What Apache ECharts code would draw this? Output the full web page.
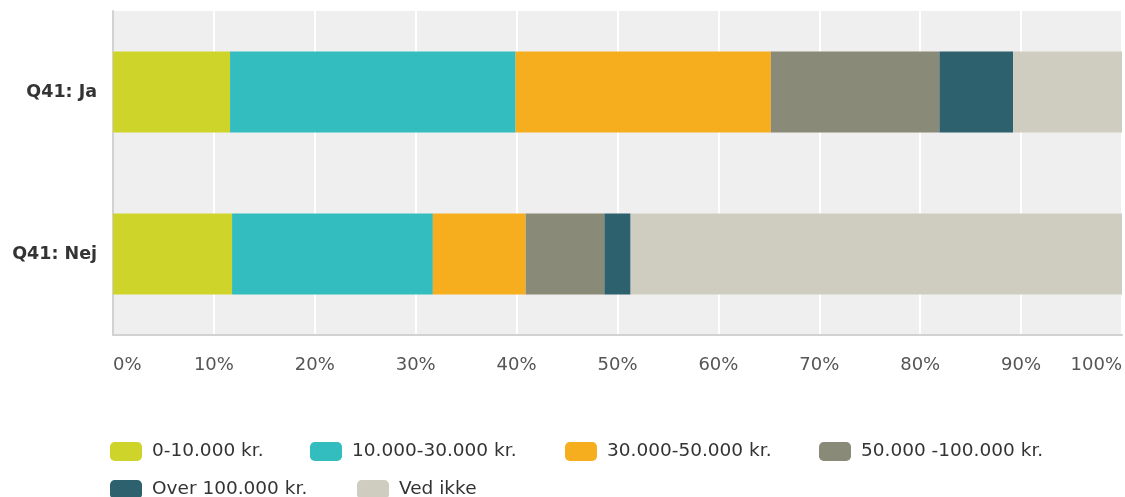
<!DOCTYPE html>
<html>
<head>
<meta charset="utf-8">
<script src="https://cdn.jsdelivr.net/npm/echarts@6/dist/echarts.min.js"></script>
<style>html,body{margin:0;padding:0;background:#fff;}#c{width:1125px;height:497px;}</style>
</head>
<body>
<div id="c"></div>
<script>
const categories = ['Q41: Ja', 'Q41: Nej'];
const seriesNames = ['0-10.000 kr.', '10.000-30.000 kr.', '30.000-50.000 kr.', '50.000 -100.000 kr.', 'Over 100.000 kr.', 'Ved ikke'];
const v0_10k = [11.6, 11.8];
const v10_30k = [28.3, 19.9];
const v30_50k = [25.3, 9.2];
const v50_100k = [16.7, 7.8];
const vOver100k = [7.3, 2.6];
const vVedIkke = [10.8, 48.7];
const tickValues = [0, 10, 20, 30, 40, 50, 60, 70, 80, 90, 100];

const seriesValues = [v0_10k, v10_30k, v30_50k, v50_100k, vOver100k, vVedIkke];
const colors = ['#cfd42a', '#33bdbf', '#f6ae1f', '#8a8a78', '#2e616e', '#cfcdbf'];

const legendPos = [[110, 442], [310, 442], [565, 442], [819, 442], [110, 480], [357, 480]];

const chart = echarts.init(document.getElementById('c'));
chart.setOption({
  animation: false,
  grid: {left: 113, right: 3, top: 11, bottom: 162, show: true, backgroundColor: '#efefef', borderWidth: 0},
  xAxis: {
    type: 'value', min: tickValues[0], max: tickValues[tickValues.length - 1], interval: tickValues[1] - tickValues[0],
    axisLine: {show: true, lineStyle: {color: '#d2d2d2', width: 2}},
    axisTick: {show: false},
    splitLine: {show: true, lineStyle: {color: '#ffffff', width: 2}},
    axisLabel: {
      formatter: v => v + '%', color: '#555', fontFamily: 'DejaVu Sans', fontSize: 18, margin: 21,
      alignMinLabel: 'left', alignMaxLabel: 'right'
    }
  },
  yAxis: {
    type: 'category', data: categories, inverse: true,
    axisLine: {show: true, lineStyle: {color: '#d2d2d2', width: 2}},
    axisTick: {show: false},
    axisLabel: {color: '#333', fontFamily: 'DejaVu Sans', fontWeight: 'bold', fontSize: 17.5, margin: 16}
  },
  legend: seriesNames.map((n, i) => ({
    data: [n], left: legendPos[i][0], top: legendPos[i][1], padding: 0,
    itemWidth: 32, itemHeight: 19, icon: 'roundRect',
    textStyle: {color: '#333', fontFamily: 'DejaVu Sans', fontSize: 18.5, padding: [0, 0, 0, 5]}
  })),
  series: seriesNames.map((n, i) => ({
    name: n, type: 'bar', stack: 'total', data: seriesValues[i], barWidth: 81,
    itemStyle: {color: colors[i]}
  }))
});
</script>
</body>
</html>
